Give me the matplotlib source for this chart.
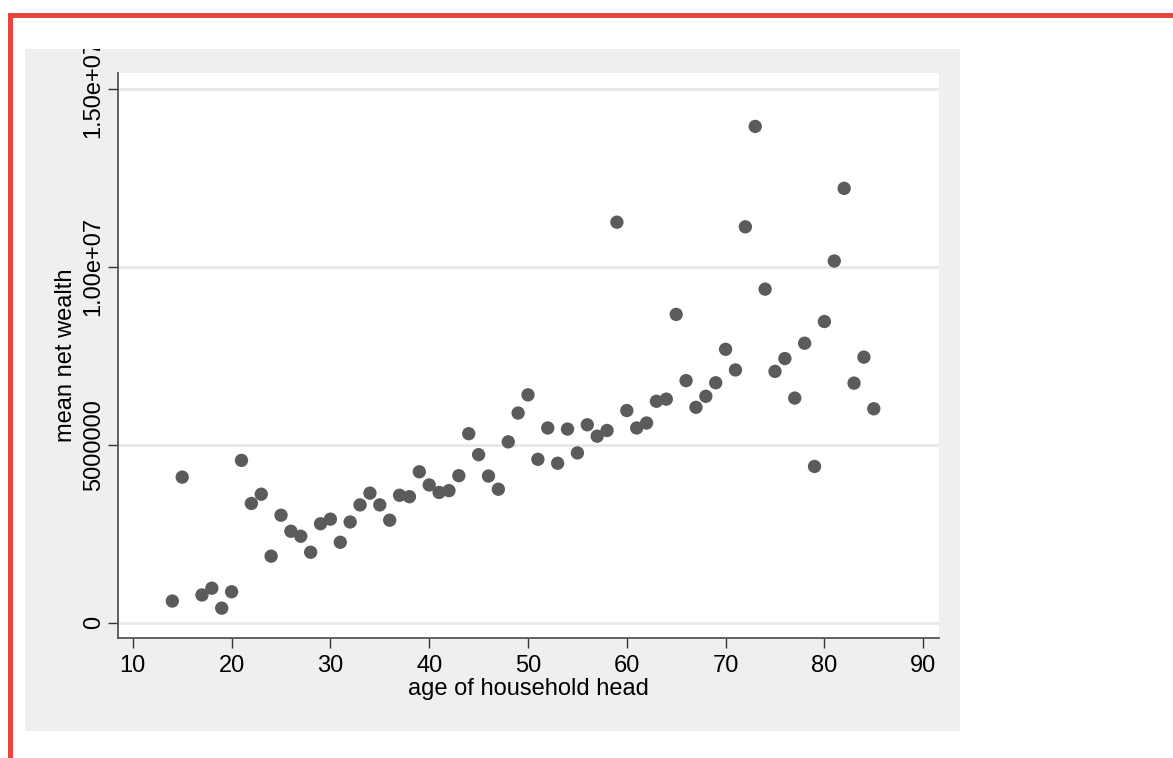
import matplotlib
matplotlib.use("Agg")
import matplotlib.pyplot as plt
from matplotlib.patches import Rectangle

plt.rcParams['font.family'] = ['Liberation Sans', 'DejaVu Sans']

ages = [14, 15, 17, 18, 19, 20, 21, 22, 23, 24, 25, 26, 27, 28, 29, 30, 31, 32, 33, 34,
        35, 36, 37, 38, 39, 40, 41, 42, 43, 44, 45, 46, 47, 48, 49, 50, 51, 52, 53, 54,
        55, 56, 57, 58, 59, 60, 61, 62, 63, 64, 65, 66, 67, 68, 69, 70, 71, 72, 73, 74,
        75, 76, 77, 78, 79, 80, 81, 82, 83, 84, 85]
wealth = [0.61e6, 4.09e6, 0.78e6, 0.97e6, 0.41e6, 0.87e6, 4.56e6, 3.35e6, 3.61e6, 1.87e6,
          3.02e6, 2.57e6, 2.43e6, 1.98e6, 2.78e6, 2.91e6, 2.26e6, 2.83e6, 3.31e6, 3.64e6,
          3.31e6, 2.88e6, 3.58e6, 3.54e6, 4.24e6, 3.87e6, 3.66e6, 3.71e6, 4.13e6, 5.31e6,
          4.72e6, 4.12e6, 3.75e6, 5.08e6, 5.89e6, 6.40e6, 4.59e6, 5.47e6, 4.48e6, 5.44e6,
          4.77e6, 5.56e6, 5.24e6, 5.40e6, 11.25e6, 5.96e6, 5.47e6, 5.61e6, 6.22e6, 6.28e6,
          8.66e6, 6.80e6, 6.05e6, 6.36e6, 6.74e6, 7.68e6, 7.10e6, 11.12e6, 13.94e6, 9.37e6,
          7.06e6, 7.42e6, 6.31e6, 7.85e6, 4.39e6, 8.46e6, 10.16e6, 12.20e6, 6.73e6, 7.46e6,
          6.01e6]

x_ticks = [10, 20, 30, 40, 50, 60, 70, 80, 90]
y_ticks = [0, 5e6, 1e7, 1.5e7]
y_tick_labels = ["0", "5000000", "1.00e+07", "1.50e+07"]
x_label = "age of household head"
y_label = "mean net wealth"

W, H = 1173, 758
fig = plt.figure(figsize=(W / 100, H / 100), dpi=100)
fig.patch.set_facecolor('white')

def fx(px):
    return px / W

def fy(py):
    return 1 - py / H

# gray graph region
fig.add_artist(Rectangle((fx(25), fy(731)), fx(960) - fx(25), fy(49) - fy(731),
                         transform=fig.transFigure, facecolor='#EFEFEF',
                         edgecolor='none', zorder=-10))

ax = fig.add_axes([fx(117.5), fy(637.7), fx(939) - fx(117.5), fy(73) - fy(637.7)])
ax.set_facecolor('white')
ax.scatter(ages, wealth, s=92, color='#5B5B5B', edgecolors='none', zorder=3)

ax.set_xlim(8.45, 91.6)
ax.set_ylim(-0.42e6, 15.44e6)
ax.set_xticks(x_ticks)
ax.set_yticks(y_ticks)
ax.set_yticklabels(y_tick_labels, rotation=90, va='center')
ax.tick_params(axis='both', which='major', labelsize=17, length=7.2, width=1.0,
               color='#333333', labelcolor='black')
ax.tick_params(axis='y', pad=2)
ax.tick_params(axis='x', pad=5)
ax.grid(axis='y', color='#E8E8E8', linewidth=2.0, zorder=0)
ax.set_axisbelow(True)
for s in ['top', 'right']:
    ax.spines[s].set_visible(False)
for s in ['left', 'bottom']:
    ax.spines[s].set_color('#555555')
    ax.spines[s].set_linewidth(1.3)

ax.set_xlabel(x_label, fontsize=17, labelpad=1)
ax.set_ylabel(y_label, fontsize=17, labelpad=4)

# white area above the graph region (clips the top tick label like the reference)
fig.add_artist(Rectangle((fx(13), fy(49)), 1 - fx(13), 1 - fy(49),
                         transform=fig.transFigure, facecolor='white',
                         edgecolor='none', zorder=10))
# red frame
red = '#E8453C'
fig.add_artist(Rectangle((fx(8), fy(18)), 1 - fx(8), fy(13) - fy(18),
                         transform=fig.transFigure, facecolor=red,
                         edgecolor='none', zorder=11))
fig.add_artist(Rectangle((fx(8), 0), fx(13) - fx(8), fy(13),
                         transform=fig.transFigure, facecolor=red,
                         edgecolor='none', zorder=11))

fig.savefig('out.png', dpi=100)
